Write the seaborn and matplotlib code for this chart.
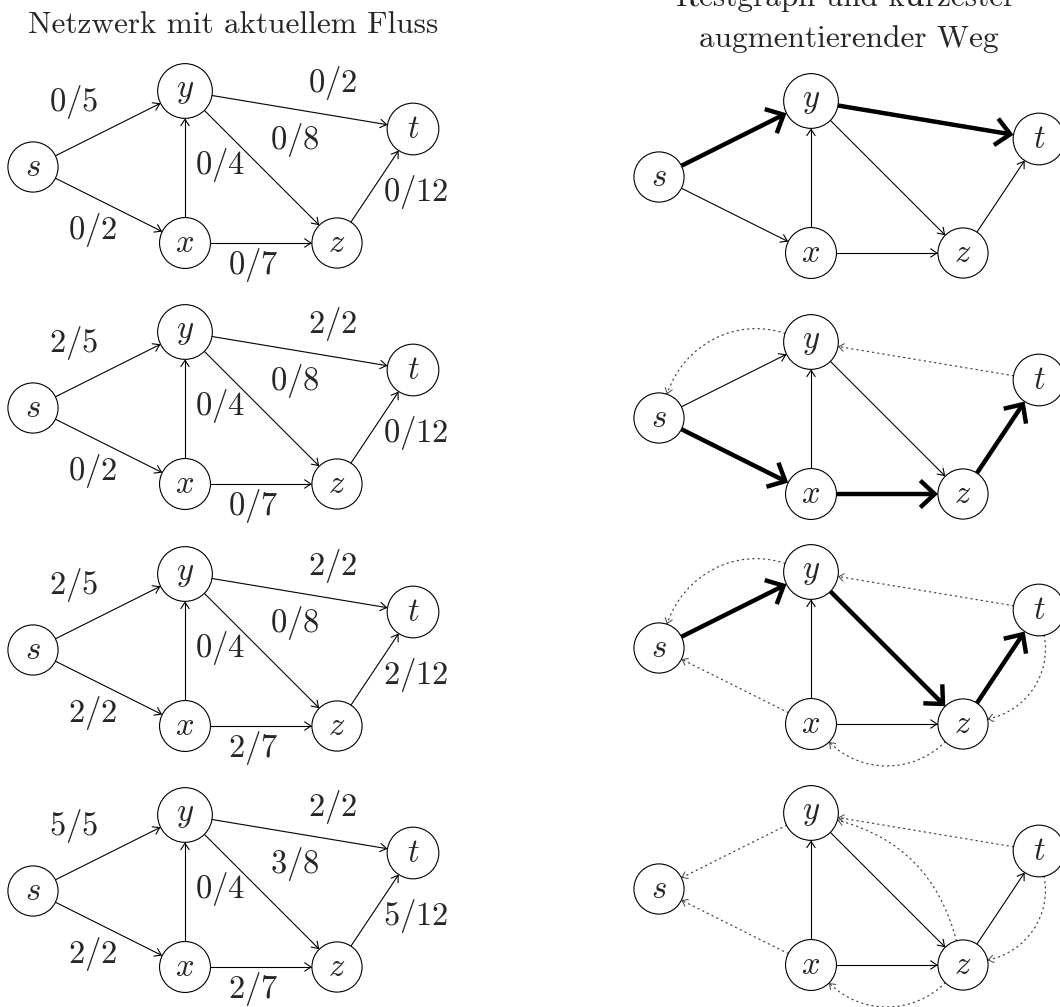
import numpy as np
import pandas as pd
import seaborn as sns
import matplotlib.pyplot as plt
from matplotlib.patches import FancyArrowPatch
from matplotlib.path import Path

sns.set_theme(style="white")
plt.rcParams["mathtext.fontset"] = "cm"
plt.rcParams["font.family"] = ["cmr10", "DejaVu Serif"]

# --- graph (tikz-like cm coordinates, s at origin) ---
nodes = ["s", "y", "x", "z", "t"]
node_x = [0, 4, 4, 8, 10]
node_y = [0, 2, -2, -2, 1]
node_r = [0.66, 0.72, 0.67, 0.66, 0.68]

edges = [("s", "y"), ("s", "x"), ("x", "y"), ("y", "t"), ("y", "z"), ("x", "z"), ("z", "t")]
capacity = [5, 2, 4, 2, 8, 7, 12]
# flow after each augmentation step
flows = [
    [0, 0, 0, 0, 0, 0, 0],
    [2, 0, 0, 2, 0, 0, 0],
    [2, 2, 0, 2, 0, 2, 2],
    [5, 2, 0, 2, 3, 2, 5],
]
# shortest augmenting path in each residual graph
paths = [["s", "y", "t"], ["s", "x", "z", "t"], ["s", "y", "z", "t"], []]

# where the flow labels sit (cm)
label_x = [1.08, 1.58, 4.92, 7.89, 6.89, 5.79, 10.08]
label_y = [1.71, -1.66, 0.05, 2.21, 0.71, -2.58, -0.66]
# bend (deg, + = left) of the back edge when both residual directions exist
back_bend = [-45, 0, 0, 0, -30, 45, 45]

title_left = "Netzwerk mit aktuellem Fluss"
title_right = ["Restgraph und kürzester", "augmentierender Weg"]

# --- page layout (pixels) ---
W, H = 1060, 1007
SCALE = 38
left_ox, right_ox = 33, 659
left_oy = [167, 408, 650, 891]
right_oy = [177, 418, 648, 889]
FS = 23.5
FS_TITLE = 22.5

pos = {n: np.array([a, b], float) for n, a, b in zip(nodes, node_x, node_y)}
rad = dict(zip(nodes, node_r))


def to_px(o, p):
    return np.array([o[0] + SCALE * p[0], o[1] - SCALE * p[1]])


def edge_path(o, a, b, bend=0):
    pa, pb = pos[a], pos[b]
    chord = np.arctan2(*(pb - pa)[::-1])
    bend = np.radians(bend)
    out, inn = chord + bend, chord + np.pi - bend
    d_out = np.array([np.cos(out), np.sin(out)])
    d_in = np.array([np.cos(inn), np.sin(inn)])
    start = pa + rad[a] * d_out
    end = pb + rad[b] * d_in
    if bend == 0:
        pts, codes = [start, end], [Path.MOVETO, Path.LINETO]
    else:
        k = 0.3915 * np.linalg.norm(end - start)
        pts = [start, start + k * d_out, end + k * d_in, end]
        codes = [Path.MOVETO, Path.CURVE4, Path.CURVE4, Path.CURVE4]
    return [to_px(o, p) for p in pts], codes


def draw_edge(ax, o, a, b, kind, bend=0):
    pts, codes = edge_path(o, a, b, bend)
    if kind == "thin":
        ax.add_patch(FancyArrowPatch(path=Path(pts, codes), arrowstyle="->,head_length=0.45,head_width=0.3",
                                     mutation_scale=10, lw=0.8, color="black", joinstyle="miter"))
    elif kind == "thick":
        ax.add_patch(FancyArrowPatch(path=Path(pts, codes), arrowstyle="->,head_length=0.45,head_width=0.42",
                                     mutation_scale=23, lw=3.2, color="black", joinstyle="miter",
                                     capstyle="butt"))
    else:
        ax.add_patch(FancyArrowPatch(path=Path(pts, codes), arrowstyle="-", lw=0.9, color="#444444",
                                     linestyle=(0, (1, 3.2))))
        tip = np.array(pts[-1])
        prev = np.array(pts[-2])
        u = (tip - prev) / np.linalg.norm(tip - prev)
        ax.add_patch(FancyArrowPatch(path=Path([tip - 0.5 * u, tip], [Path.MOVETO, Path.LINETO]),
                                     arrowstyle="->,head_length=0.4,head_width=0.3",
                                     mutation_scale=9, lw=0.7, color="#444444"))


def draw_nodes(ax, o):
    xy = np.array([to_px(o, pos[n]) for n in nodes])
    df = pd.DataFrame({"x": xy[:, 0], "y": xy[:, 1], "node": nodes})
    sizes = {n: (2 * rad[n] * SCALE * 0.72) ** 2 for n in nodes}
    sns.scatterplot(data=df, x="x", y="y", size="node", sizes=sizes, marker="o",
                    facecolor="white", edgecolor="black", linewidth=0.8, legend=False, ax=ax, zorder=3)
    for n, (px, py) in zip(nodes, xy):
        ax.text(px, py, f"${n}$", ha="center", va="center", fontsize=FS, zorder=4)


fig = plt.figure(figsize=(W / 100, H / 100), dpi=100)
ax = fig.add_axes([0, 0, 1, 1])

for i in range(4):
    # left: network with current flow
    o = (left_ox, left_oy[i])
    for j, (a, b) in enumerate(edges):
        draw_edge(ax, o, a, b, "thin")
        lx, ly = to_px(o, (label_x[j], label_y[j]))
        ax.text(lx, ly, f"${flows[i][j]}/{capacity[j]}$", ha="center", va="center", fontsize=FS)
    draw_nodes(ax, o)

    # right: residual graph with augmenting path
    o = (right_ox, right_oy[i])
    path_edges = set(zip(paths[i][:-1], paths[i][1:]))
    for j, (a, b) in enumerate(edges):
        f, c = flows[i][j], capacity[j]
        both = 0 < f < c
        if f < c:
            draw_edge(ax, o, a, b, "thick" if (a, b) in path_edges else "thin")
        if f > 0:
            draw_edge(ax, o, b, a, "dotted", back_bend[j] if both else 0)
    draw_nodes(ax, o)

ax.text(233, 33, title_left, ha="center", va="baseline", fontsize=FS_TITLE)
ax.text(846, 6, title_right[0], ha="center", va="baseline", fontsize=FS_TITLE)
ax.text(849, 47, title_right[1], ha="center", va="baseline", fontsize=FS_TITLE)

ax.set_xlim(0, W)
ax.set_ylim(H, 0)
ax.axis("off")
fig.savefig("out.png", dpi=100)
